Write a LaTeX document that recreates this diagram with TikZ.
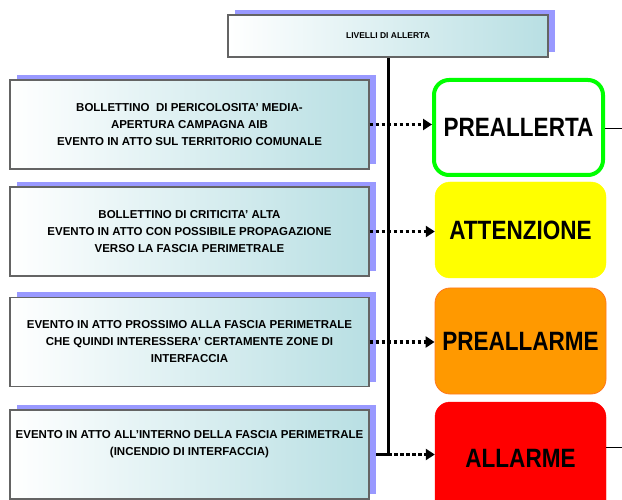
\documentclass[tikz,border=0pt]{standalone}
\usepackage{fontspec}
\setmainfont{Liberation Sans}
\newfontfamily\narrowfont[FakeStretch=0.85]{Liberation Sans}
\usetikzlibrary{shadows,arrows.meta,backgrounds}
\definecolor{shadowblue}{RGB}{153,153,255}
\definecolor{boxteal}{RGB}{184,223,227}
\definecolor{boxgray}{RGB}{100,100,100}
\definecolor{pregreen}{RGB}{0,255,0}
\definecolor{attyellow}{RGB}{255,255,0}
\definecolor{palorange}{RGB}{255,153,0}
\definecolor{palborder}{RGB}{255,120,30}
\definecolor{allred}{RGB}{255,0,0}
\begin{document}
\begin{tikzpicture}[x=1pt, y=-1pt, >=Triangle,
  evbox/.style={draw=boxgray, line width=1.2pt, left color=white, right color=boxteal,
    general shadow={fill=shadowblue, shadow xshift=7pt, shadow yshift=5pt},
    minimum width=359pt, minimum height=89pt, inner sep=0pt, align=center,
    font=\bfseries\fontsize{11.5}{17}\selectfont},
  levelbox/.style={rounded corners=15pt, minimum width=171pt, inner sep=0pt,
    font=\narrowfont\bfseries\fontsize{26.5}{30}\selectfont},
  dots/.style={line width=3.5pt, dash pattern=on 3.5pt off 2.5pt,
    -{Triangle[width=11pt,length=9pt]}}]
  \clip (0,0) rectangle (622,500);
  % titolo
  \node (title) at (388,36) [draw=boxgray, line width=1.2pt, left color=white, right color=boxteal,
    general shadow={fill=shadowblue, shadow xshift=7pt, shadow yshift=5pt},
    minimum width=320pt, minimum height=42pt, font=\bfseries\fontsize{8.5}{10}\selectfont]
    {LIVELLI DI ALLERTA};
  % eventi
  \node (ev1) at (189.5,124.5) [evbox] {BOLLETTINO\ \ DI PERICOLOSITA’ MEDIA-\\APERTURA CAMPAGNA AIB\\EVENTO IN ATTO SUL TERRITORIO COMUNALE};
  \node (ev2) at (189.5,231.5) [evbox] {BOLLETTINO DI CRITICITA’ ALTA\\EVENTO IN ATTO CON POSSIBILE PROPAGAZIONE\\VERSO LA FASCIA PERIMETRALE};
  \node (ev3) at (189.5,342)   [evbox] {EVENTO IN ATTO PROSSIMO ALLA FASCIA PERIMETRALE\\CHE QUINDI INTERESSERA’ CERTAMENTE ZONE DI\\INTERFACCIA};
  \node (ev4) at (189.5,454.5) [evbox] {EVENTO IN ATTO ALL’INTERNO DELLA FASCIA PERIMETRALE\\(INCENDIO DI INTERFACCIA)\\\strut};
  % livelli
  \node (pre) at (518.5,127.5) [levelbox, draw=pregreen, line width=4pt, fill=white,
    minimum width=169pt, minimum height=95pt] {PREALLERTA};
  \node (att) at (520.5,230) [levelbox, draw=attyellow, fill=attyellow, minimum height=96pt] {ATTENZIONE};
  \node (pal) at (520.5,341) [levelbox, draw=palborder, line width=0.8pt, fill=palorange,
    minimum height=106pt] {PREALLARME};
  \node (all) at (520.5,458.5) [levelbox, draw=allred, fill=allred, minimum height=113pt] {ALLARME};
  \begin{pgfonlayer}{background}
    \draw [line width=3pt] (title.south) |- (ev4.east);
  \end{pgfonlayer}
  \draw [dots] (ev1.east) -- (ev1.east -| pre.west);
  \draw [dots] (ev2.east) -- (ev2.east -| att.west);
  \draw [dots] (ev3.east) -- (ev3.east -| pal.west);
  \draw [dots] (title.south |- ev4.east) -- (ev4.east -| all.west);
  \coordinate (prestub) at (622,128);
  \coordinate (allstub) at (622,447);
  \draw (pre.east |- prestub) -- (prestub);
  \draw (all.east |- allstub) -- (allstub);
\end{tikzpicture}
\end{document}
